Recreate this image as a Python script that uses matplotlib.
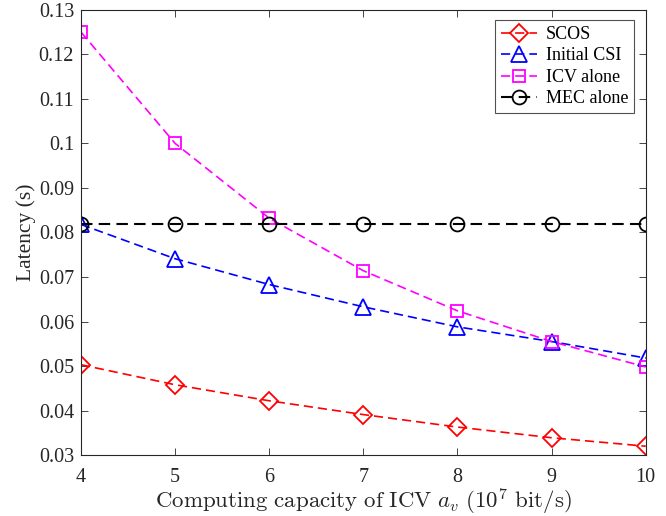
import numpy as np
import matplotlib as mpl
mpl.use('Agg')
import matplotlib.pyplot as plt

plt.rcParams['font.family'] = ['Liberation Serif', 'DejaVu Serif']
plt.rcParams['mathtext.fontset'] = 'cm'

cap = [4, 5, 6, 7, 8, 9, 10]
scos = [0.0503, 0.0458, 0.0422, 0.0391, 0.0363, 0.0339, 0.0320]
csi = [0.0818, 0.0741, 0.0683, 0.0633, 0.0588, 0.0555, 0.0518]
icv = [0.1250, 0.1000, 0.0832, 0.0714, 0.0624, 0.0555, 0.0498]
mec = [0.0820] * 7

fig = plt.figure(figsize=(6.66, 5.16), dpi=100)
ax = fig.add_axes([0.1216, 0.118, 0.848, 0.863])

dash = (5.5, 3)
ax.plot(cap, scos, 'r--', dashes=dash, marker='D', ms=9, mfc='none', mew=1.3, lw=1.2, label='SCOS')
ax.plot(cap, csi, 'b--', dashes=dash, marker='^', ms=11, mfc='none', mew=1.3, lw=1.2, label='Initial CSI')
ax.plot(cap, icv, '--', dashes=dash, color='#ff00ff', marker='s', ms=9, mfc='none', mew=1.3, lw=1.2, label='ICV alone')
ax.plot(cap, mec, 'k--', dashes=dash, marker='o', ms=10, mfc='none', mew=1.3, lw=1.5, label='MEC alone')

ax.set_xlim(4, 10)
ax.set_ylim(0.03, 0.13)
ax.set_xticks(cap)
ax.set_yticks(np.arange(0.03, 0.1301, 0.01))
ax.set_yticklabels(['0.03', '0.04', '0.05', '0.06', '0.07', '0.08', '0.09', '0.1', '0.11', '0.12', '0.13'])
ax.tick_params(direction='in', top=True, right=True, labelsize=14.5, length=5, width=0.6,
               colors='#262626')
ax.tick_params(axis='x', pad=9)
ax.tick_params(axis='y', pad=5)
for s in ax.spines.values():
    s.set_linewidth(0.8)
    s.set_color('#262626')

ax.set_xlabel(r'$\mathrm{Computing\ capacity\ of\ ICV}\ a_v\ (10^7\ \mathrm{bit/s})$',
              fontsize=16.5, labelpad=0, color='#262626')
ax.set_ylabel('Latency (s)', fontsize=15.5, labelpad=2, color='#262626')

leg = ax.legend(loc='upper right', fontsize=13, fancybox=False, edgecolor='#262626',
                borderpad=0.3, labelspacing=0.25, handlelength=2.0, handletextpad=0.5,
                bbox_to_anchor=(0.979, 0.976), borderaxespad=0)
leg.get_frame().set_linewidth(0.8)

fig.savefig('out.png', dpi=100)
